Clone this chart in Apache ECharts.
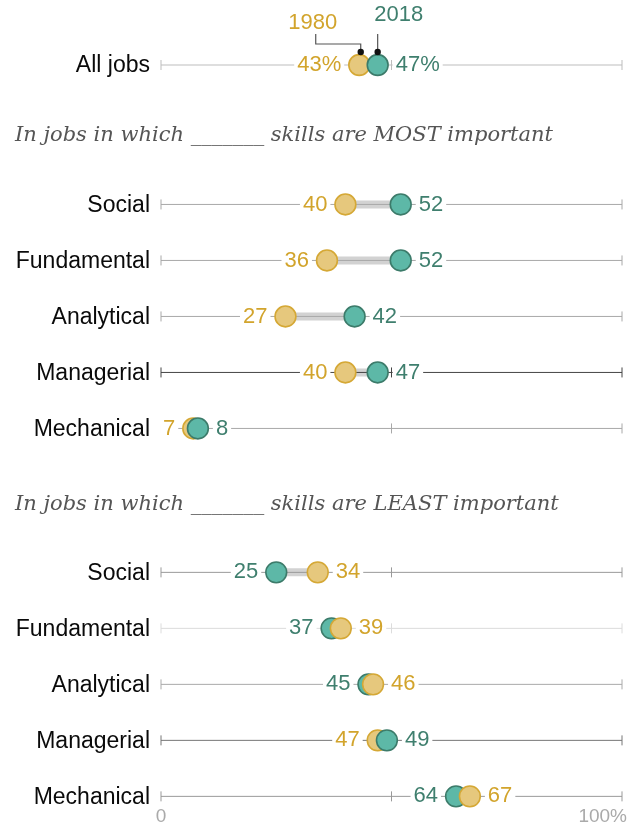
<!DOCTYPE html>
<html><head><meta charset="utf-8">
<script src="https://cdn.jsdelivr.net/npm/echarts@6.0.0/dist/echarts.min.js"></script>
<style>html,body{margin:0;padding:0;background:#fff}#c{width:631px;height:825px}</style>
</head><body><div id="c"></div>
<script>
// ---- data ----
const categories = ['All jobs','Social','Fundamental','Analytical','Managerial','Mechanical',
                    'Social','Fundamental','Analytical','Managerial','Mechanical'];
const sectionOf = [0,1,1,1,1,1,2,2,2,2,2];
const values1980 = [43,40,36,27,40,7,34,39,46,47,67];
const values2018 = [47,52,52,42,47,8,25,37,45,49,64];
const seriesNames = ['1980','2018'];
const headings = ['In jobs in which _______ skills are MOST important',
                  'In jobs in which _______ skills are LEAST important'];
const tickValues = [0,50,100];
const axisTickLabels = ['0','100%'];

// ---- styles ----
const sectionExtra = [0, 1.49, 3.06];
const lineColors = ['#bdbdbd','#a8a8a8','#a8a8a8','#a8a8a8','#444','#a8a8a8',
                    '#999','#dcdcdc','#aaa','#777','#999'];
const GOLD_TXT = '#D2A42C', TEAL_TXT = '#3F7F6E';
const GOLD_FILL = '#E6C87D', GOLD_STROKE = '#D5A835';
const TEAL_FILL = '#5DB8A7', TEAL_STROKE = '#3C7B6A';
const NUM_FONT = '22px "Liberation Sans", Arial, sans-serif';
const CAT_FONT = '23px "Liberation Sans", Arial, sans-serif';
const R = 10.4;

const slotOf = i => i + sectionExtra[sectionOf[i]];
const data = categories.map((c, i) => [slotOf(i), values1980[i], values2018[i], i]);

function txt(text, x, y, fill, font, align, extra) {
  return {
    type: 'text', z2: 20,
    style: Object.assign({ text, x, y, fill, font, align, verticalAlign: 'middle',
      textAlign: align, textVerticalAlign: 'middle' }, extra || {})
  };
}

function renderItem(params, api) {
  const i = api.value(3);
  const slot = api.value(0);
  const v1 = api.value(1), v2 = api.value(2);
  const p0 = api.coord([0, slot]), p100 = api.coord([100, slot]);
  const y = p0[1];
  const x1 = api.coord([v1, slot])[0], x2 = api.coord([v2, slot])[0];
  const lc = lineColors[i];
  const ch = [];
  // connector
  ch.push({ type: 'rect', z2: 1, shape: { x: Math.min(x1, x2), y: y - 4, width: Math.abs(x2 - x1), height: 8 },
            style: { fill: '#d2d2d2' } });
  // track
  ch.push({ type: 'line', z2: 2, shape: { x1: p0[0], y1: y, x2: p100[0], y2: y }, style: { stroke: lc, lineWidth: 1 } });
  tickValues.forEach(t => {
    const tx = api.coord([t, slot])[0];
    ch.push({ type: 'line', z2: 2, shape: { x1: tx, y1: y - 5, x2: tx, y2: y + 5 }, style: { stroke: lc, lineWidth: 1 } });
  });
  // labels
  const isPct = i === 0;
  const pts = [
    { v: v1, x: x1, fill: GOLD_FILL, stroke: GOLD_STROKE, tc: GOLD_TXT },
    { v: v2, x: x2, fill: TEAL_FILL, stroke: TEAL_STROKE, tc: TEAL_TXT }
  ];
  const lo = (v1 < v2) ? pts[0] : pts[1];
  const hi = (v1 < v2) ? pts[1] : pts[0];
  const pad = { backgroundColor: '#fff', padding: [0, 3] };
  ch.push(txt(lo.v + (isPct ? '%' : ''), lo.x - 15, y, lo.tc, NUM_FONT, 'right', pad));
  ch.push(txt(hi.v + (isPct ? '%' : ''), hi.x + 15, y, hi.tc, NUM_FONT, 'left', pad));
  // circles: lower value first, higher on top
  [lo, hi].forEach((p, k) => {
    ch.push({ type: 'circle', z2: 30 + k, shape: { cx: p.x, cy: y, r: R },
              style: { fill: p.fill, stroke: p.stroke, lineWidth: 1.6 } });
  });
  // category label
  ch.push(txt(categories[i], p0[0] - 11, y + 1, '#0a0a0a', CAT_FONT, 'right'));
  // annotations
  if (i === 0) {
    const d1 = x1 + 1.5, d2 = x2;
    ch.push({ type: 'polyline', z2: 40, shape: { points: [[d1, y - 13], [d1, y - 21], [d1 - 45, y - 21], [d1 - 45, y - 31]] },
              style: { stroke: '#555', lineWidth: 1.2, fill: null } });
    ch.push({ type: 'line', z2: 40, shape: { x1: d2, y1: y - 13, x2: d2, y2: y - 31 }, style: { stroke: '#555', lineWidth: 1.2 } });
    ch.push({ type: 'circle', z2: 41, shape: { cx: d1, cy: y - 13, r: 3.2 }, style: { fill: '#111' } });
    ch.push({ type: 'circle', z2: 41, shape: { cx: d2, cy: y - 13, r: 3.2 }, style: { fill: '#111' } });
    ch.push(txt(seriesNames[0], d1 - 48, y - 42, GOLD_TXT, NUM_FONT, 'center'));
    ch.push(txt(seriesNames[1], d2 + 21, y - 50, TEAL_TXT, NUM_FONT, 'center'));
  }
  // bottom axis labels
  if (i === categories.length - 1) {
    ch.push(txt(axisTickLabels[0], p0[0], y + 20, '#aaa', '19px "Liberation Sans", Arial, sans-serif', 'center'));
    ch.push(txt(axisTickLabels[1], p100[0] + 5, y + 20, '#aaa', '19px "Liberation Sans", Arial, sans-serif', 'right'));
  }
  return { type: 'group', children: ch };
}

const chart = echarts.init(document.getElementById('c'), null, { renderer: 'canvas' });
chart.setOption({
  animation: false,
  backgroundColor: '#fff',
  grid: { left: 161, right: 9, top: 0, bottom: 0 },
  xAxis: { type: 'value', min: 0, max: 100, show: false },
  yAxis: { type: 'value', inverse: true, min: -65 / 56, max: (825 - 65) / 56, show: false },
  graphic: headings.map((h, k) => ({
    type: 'text', x: 15, y: k === 0 ? 136 : 505,
    style: { text: h, font: 'italic 21px "DejaVu Serif", Georgia, serif', fill: '#555',
             verticalAlign: 'middle', textVerticalAlign: 'middle' }
  })),
  series: [{
    type: 'custom', renderItem, data, clip: false,
    encode: { x: [1, 2], y: 0 }
  }]
});
</script>
</body></html>
